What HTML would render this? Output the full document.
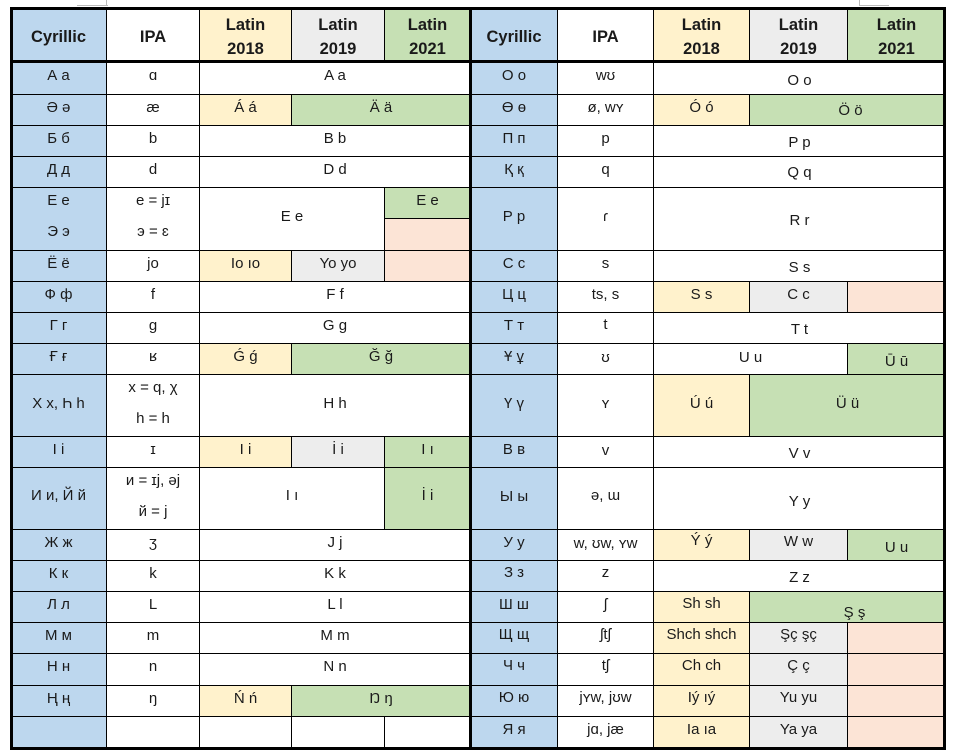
<!DOCTYPE html>
<html><head><meta charset="utf-8">
<style>
html,body{margin:0;padding:0;background:#fff;}
body{width:953px;height:753px;position:relative;overflow:hidden;font-family:"Liberation Sans","DejaVu Sans",sans-serif;}
.c{position:absolute;box-sizing:border-box;border:1px solid #000;display:flex;align-items:center;justify-content:center;font-size:15px;color:#1a1a1a;white-space:nowrap;background:#fff;}
.c span{position:relative;top:-3px;text-align:center;}
.c span.two{line-height:31px;}
.h{font-weight:bold;font-size:16.5px;color:#1a1a1a;}
.h span{top:2px;line-height:24px;}
.bl{background:#bdd7ee;}
.ye{background:#fff2cc;}
.gr{background:#ededed;}
.gn{background:#c6e0b4;}
.pk{background:#fce4d6;}
.k{position:absolute;background:#000;}
.g{position:absolute;background:#bbb;}
</style></head><body>

<!-- artifacts -->
<div class="g" style="left:77px;top:5px;width:31px;height:1px"></div>
<div class="g" style="left:106px;top:0;width:1px;height:6px"></div>
<div class="g" style="left:859px;top:0;width:1px;height:6px"></div>
<div class="g" style="left:859px;top:5px;width:30px;height:1px"></div>

<!-- HEADER LEFT -->
<div class="c h bl" style="left:10px;top:7px;width:97px;height:55px"><span>Cyrillic</span></div>
<div class="c h" style="left:106px;top:7px;width:94px;height:55px"><span>IPA</span></div>
<div class="c h ye" style="left:199px;top:7px;width:93px;height:55px"><span>Latin<br>2018</span></div>
<div class="c h gr" style="left:291px;top:7px;width:94px;height:55px"><span>Latin<br>2019</span></div>
<div class="c h gn" style="left:384px;top:7px;width:87px;height:55px"><span>Latin<br>2021</span></div>
<!-- HEADER RIGHT -->
<div class="c h bl" style="left:470px;top:7px;width:88px;height:55px"><span>Cyrillic</span></div>
<div class="c h" style="left:557px;top:7px;width:97px;height:55px"><span>IPA</span></div>
<div class="c h ye" style="left:653px;top:7px;width:97px;height:55px"><span>Latin<br>2018</span></div>
<div class="c h gr" style="left:749px;top:7px;width:99px;height:55px"><span>Latin<br>2019</span></div>
<div class="c h gn" style="left:847px;top:7px;width:99px;height:55px"><span>Latin<br>2021</span></div>

<!-- LEFT TABLE -->
<!-- А а -->
<div class="c bl" style="left:10px;top:61px;width:97px;height:34px"><span>А а</span></div>
<div class="c" style="left:106px;top:61px;width:94px;height:34px"><span>ɑ</span></div>
<div class="c" style="left:199px;top:61px;width:272px;height:34px"><span>A a</span></div>
<!-- Ә ә -->
<div class="c bl" style="left:10px;top:94px;width:97px;height:32px"><span>Ә ә</span></div>
<div class="c" style="left:106px;top:94px;width:94px;height:32px"><span>æ</span></div>
<div class="c ye" style="left:199px;top:94px;width:93px;height:32px"><span>Á á</span></div>
<div class="c gn" style="left:291px;top:94px;width:180px;height:32px"><span>Ä ä</span></div>
<!-- Б б -->
<div class="c bl" style="left:10px;top:125px;width:97px;height:32px"><span>Б б</span></div>
<div class="c" style="left:106px;top:125px;width:94px;height:32px"><span>b</span></div>
<div class="c" style="left:199px;top:125px;width:272px;height:32px"><span>B b</span></div>
<!-- Д д -->
<div class="c bl" style="left:10px;top:156px;width:97px;height:32px"><span>Д д</span></div>
<div class="c" style="left:106px;top:156px;width:94px;height:32px"><span>d</span></div>
<div class="c" style="left:199px;top:156px;width:272px;height:32px"><span>D d</span></div>
<!-- Е е / Э э -->
<div class="c bl" style="left:10px;top:187px;width:97px;height:64px"><span class="two">Е е<br>Э э</span></div>
<div class="c" style="left:106px;top:187px;width:94px;height:64px"><span class="two">e = jɪ<br>э = ɛ</span></div>
<div class="c" style="left:199px;top:187px;width:186px;height:64px"><span>E e</span></div>
<div class="c gn" style="left:384px;top:187px;width:87px;height:32px"><span>E e</span></div>
<div class="c pk" style="left:384px;top:218px;width:87px;height:33px"><span></span></div>
<!-- Ё ё -->
<div class="c bl" style="left:10px;top:250px;width:97px;height:32px"><span>Ё ё</span></div>
<div class="c" style="left:106px;top:250px;width:94px;height:32px"><span>jo</span></div>
<div class="c ye" style="left:199px;top:250px;width:93px;height:32px"><span>Io ıo</span></div>
<div class="c gr" style="left:291px;top:250px;width:94px;height:32px"><span>Yo yo</span></div>
<div class="c pk" style="left:384px;top:250px;width:87px;height:32px"><span></span></div>
<!-- Ф ф -->
<div class="c bl" style="left:10px;top:281px;width:97px;height:32px"><span>Ф ф</span></div>
<div class="c" style="left:106px;top:281px;width:94px;height:32px"><span>f</span></div>
<div class="c" style="left:199px;top:281px;width:272px;height:32px"><span>F f</span></div>
<!-- Г г -->
<div class="c bl" style="left:10px;top:312px;width:97px;height:32px"><span>Г г</span></div>
<div class="c" style="left:106px;top:312px;width:94px;height:32px"><span>g</span></div>
<div class="c" style="left:199px;top:312px;width:272px;height:32px"><span>G g</span></div>
<!-- Ғ ғ -->
<div class="c bl" style="left:10px;top:343px;width:97px;height:32px"><span>Ғ ғ</span></div>
<div class="c" style="left:106px;top:343px;width:94px;height:32px"><span>ʁ</span></div>
<div class="c ye" style="left:199px;top:343px;width:93px;height:32px"><span>Ǵ ǵ</span></div>
<div class="c gn" style="left:291px;top:343px;width:180px;height:32px"><span>Ğ ğ</span></div>
<!-- Х х, Һ һ -->
<div class="c bl" style="left:10px;top:374px;width:97px;height:63px"><span style="top:-2px">Х х, Һ һ</span></div>
<div class="c" style="left:106px;top:374px;width:94px;height:63px"><span class="two">x = q, χ<br>һ = h</span></div>
<div class="c" style="left:199px;top:374px;width:272px;height:63px"><span style="top:-2px">H h</span></div>
<!-- І і -->
<div class="c bl" style="left:10px;top:436px;width:97px;height:32px"><span>І і</span></div>
<div class="c" style="left:106px;top:436px;width:94px;height:32px"><span>ɪ</span></div>
<div class="c ye" style="left:199px;top:436px;width:93px;height:32px"><span>I i</span></div>
<div class="c gr" style="left:291px;top:436px;width:94px;height:32px"><span>İ i</span></div>
<div class="c gn" style="left:384px;top:436px;width:87px;height:32px"><span>I ı</span></div>
<!-- И и, Й й -->
<div class="c bl" style="left:10px;top:467px;width:97px;height:63px"><span>И и, Й й</span></div>
<div class="c" style="left:106px;top:467px;width:94px;height:63px"><span class="two">и = ɪj, əj<br>й = j</span></div>
<div class="c" style="left:199px;top:467px;width:186px;height:63px"><span>I ı</span></div>
<div class="c gn" style="left:384px;top:467px;width:87px;height:63px"><span>İ i</span></div>
<!-- Ж ж -->
<div class="c bl" style="left:10px;top:529px;width:97px;height:32px"><span>Ж ж</span></div>
<div class="c" style="left:106px;top:529px;width:94px;height:32px"><span>ʒ</span></div>
<div class="c" style="left:199px;top:529px;width:272px;height:32px"><span>J j</span></div>
<!-- К к -->
<div class="c bl" style="left:10px;top:560px;width:97px;height:32px"><span>К к</span></div>
<div class="c" style="left:106px;top:560px;width:94px;height:32px"><span>k</span></div>
<div class="c" style="left:199px;top:560px;width:272px;height:32px"><span>K k</span></div>
<!-- Л л -->
<div class="c bl" style="left:10px;top:591px;width:97px;height:32px"><span>Л л</span></div>
<div class="c" style="left:106px;top:591px;width:94px;height:32px"><span>L</span></div>
<div class="c" style="left:199px;top:591px;width:272px;height:32px"><span>L l</span></div>
<!-- М м -->
<div class="c bl" style="left:10px;top:622px;width:97px;height:32px"><span>М м</span></div>
<div class="c" style="left:106px;top:622px;width:94px;height:32px"><span>m</span></div>
<div class="c" style="left:199px;top:622px;width:272px;height:32px"><span>M m</span></div>
<!-- Н н -->
<div class="c bl" style="left:10px;top:653px;width:97px;height:33px"><span>Н н</span></div>
<div class="c" style="left:106px;top:653px;width:94px;height:33px"><span>n</span></div>
<div class="c" style="left:199px;top:653px;width:272px;height:33px"><span>N n</span></div>
<!-- Ң ң -->
<div class="c bl" style="left:10px;top:685px;width:97px;height:32px"><span>Ң ң</span></div>
<div class="c" style="left:106px;top:685px;width:94px;height:32px"><span>ŋ</span></div>
<div class="c ye" style="left:199px;top:685px;width:93px;height:32px"><span>Ń ń</span></div>
<div class="c gn" style="left:291px;top:685px;width:180px;height:32px"><span>Ŋ ŋ</span></div>
<!-- empty -->
<div class="c bl" style="left:10px;top:716px;width:97px;height:32px"><span></span></div>
<div class="c" style="left:106px;top:716px;width:94px;height:32px"><span></span></div>
<div class="c" style="left:199px;top:716px;width:93px;height:32px"><span></span></div>
<div class="c" style="left:291px;top:716px;width:94px;height:32px"><span></span></div>
<div class="c" style="left:384px;top:716px;width:87px;height:32px"><span></span></div>

<!-- RIGHT TABLE -->
<!-- О о -->
<div class="c bl" style="left:470px;top:61px;width:88px;height:34px"><span>О о</span></div>
<div class="c" style="left:557px;top:61px;width:97px;height:34px"><span>wʊ</span></div>
<div class="c" style="left:653px;top:61px;width:293px;height:34px"><span style="top:2px">O o</span></div>
<!-- Ө ө -->
<div class="c bl" style="left:470px;top:94px;width:88px;height:32px"><span>Ө ө</span></div>
<div class="c" style="left:557px;top:94px;width:97px;height:32px"><span>ø, wʏ</span></div>
<div class="c ye" style="left:653px;top:94px;width:97px;height:32px"><span>Ó ó</span></div>
<div class="c gn" style="left:749px;top:94px;width:197px;height:32px"><span style="top:0px;left:3px">Ö ö</span></div>
<!-- П п -->
<div class="c bl" style="left:470px;top:125px;width:88px;height:32px"><span>П п</span></div>
<div class="c" style="left:557px;top:125px;width:97px;height:32px"><span>p</span></div>
<div class="c" style="left:653px;top:125px;width:293px;height:32px"><span style="top:1px">P p</span></div>
<!-- Қ қ -->
<div class="c bl" style="left:470px;top:156px;width:88px;height:32px"><span>Қ қ</span></div>
<div class="c" style="left:557px;top:156px;width:97px;height:32px"><span>q</span></div>
<div class="c" style="left:653px;top:156px;width:293px;height:32px"><span style="top:0px">Q q</span></div>
<!-- Р р -->
<div class="c bl" style="left:470px;top:187px;width:88px;height:64px"><span>Р р</span></div>
<div class="c" style="left:557px;top:187px;width:97px;height:64px"><span>ɾ</span></div>
<div class="c" style="left:653px;top:187px;width:293px;height:64px"><span style="top:1px">R r</span></div>
<!-- С с -->
<div class="c bl" style="left:470px;top:250px;width:88px;height:32px"><span>С с</span></div>
<div class="c" style="left:557px;top:250px;width:97px;height:32px"><span>s</span></div>
<div class="c" style="left:653px;top:250px;width:293px;height:32px"><span style="top:1px">S s</span></div>
<!-- Ц ц -->
<div class="c bl" style="left:470px;top:281px;width:88px;height:32px"><span>Ц ц</span></div>
<div class="c" style="left:557px;top:281px;width:97px;height:32px"><span>ts, s</span></div>
<div class="c ye" style="left:653px;top:281px;width:97px;height:32px"><span>S s</span></div>
<div class="c gr" style="left:749px;top:281px;width:99px;height:32px"><span>C c</span></div>
<div class="c pk" style="left:847px;top:281px;width:99px;height:32px"><span></span></div>
<!-- Т т -->
<div class="c bl" style="left:470px;top:312px;width:88px;height:32px"><span>Т т</span></div>
<div class="c" style="left:557px;top:312px;width:97px;height:32px"><span style="top:-4px">t</span></div>
<div class="c" style="left:653px;top:312px;width:293px;height:32px"><span style="top:1px">T t</span></div>
<!-- Ұ ұ -->
<div class="c bl" style="left:470px;top:343px;width:88px;height:32px"><span>Ұ ұ</span></div>
<div class="c" style="left:557px;top:343px;width:97px;height:32px"><span style="top:-2px">ʊ</span></div>
<div class="c" style="left:653px;top:343px;width:195px;height:32px"><span style="top:-2px">U u</span></div>
<div class="c gn" style="left:847px;top:343px;width:99px;height:32px"><span style="top:2px">Ū ū</span></div>
<!-- Ү ү -->
<div class="c bl" style="left:470px;top:374px;width:88px;height:63px"><span style="top:-2px">Ү ү</span></div>
<div class="c" style="left:557px;top:374px;width:97px;height:63px"><span style="top:-2px">ʏ</span></div>
<div class="c ye" style="left:653px;top:374px;width:97px;height:63px"><span style="top:-2px">Ú ú</span></div>
<div class="c gn" style="left:749px;top:374px;width:197px;height:63px"><span style="top:-2px">Ü ü</span></div>
<!-- В в -->
<div class="c bl" style="left:470px;top:436px;width:88px;height:32px"><span>В в</span></div>
<div class="c" style="left:557px;top:436px;width:97px;height:32px"><span style="top:-2px">v</span></div>
<div class="c" style="left:653px;top:436px;width:293px;height:32px"><span style="top:1px">V v</span></div>
<!-- Ы ы -->
<div class="c bl" style="left:470px;top:467px;width:88px;height:63px"><span style="top:-2px">Ы ы</span></div>
<div class="c" style="left:557px;top:467px;width:97px;height:63px"><span>ə, ɯ</span></div>
<div class="c" style="left:653px;top:467px;width:293px;height:63px"><span style="top:3px">Y y</span></div>
<!-- У у -->
<div class="c bl" style="left:470px;top:529px;width:88px;height:32px"><span>У у</span></div>
<div class="c" style="left:557px;top:529px;width:97px;height:32px"><span style="top:-2px">w, ʊw, ʏw</span></div>
<div class="c ye" style="left:653px;top:529px;width:97px;height:32px"><span style="top:-5px">Ý ý</span></div>
<div class="c gr" style="left:749px;top:529px;width:99px;height:32px"><span style="top:-4px">W w</span></div>
<div class="c gn" style="left:847px;top:529px;width:99px;height:32px"><span style="top:2px">U u</span></div>
<!-- З з -->
<div class="c bl" style="left:470px;top:560px;width:88px;height:32px"><span style="top:-4px">З з</span></div>
<div class="c" style="left:557px;top:560px;width:97px;height:32px"><span style="top:-4px">z</span></div>
<div class="c" style="left:653px;top:560px;width:293px;height:32px"><span style="top:1px">Z z</span></div>
<!-- Ш ш -->
<div class="c bl" style="left:470px;top:591px;width:88px;height:32px"><span>Ш ш</span></div>
<div class="c" style="left:557px;top:591px;width:97px;height:32px"><span>ʃ</span></div>
<div class="c ye" style="left:653px;top:591px;width:97px;height:32px"><span style="top:-4px">Sh sh</span></div>
<div class="c gn" style="left:749px;top:591px;width:197px;height:32px"><span style="top:5px;left:7px">Ş ş</span></div>
<!-- Щ щ -->
<div class="c bl" style="left:470px;top:622px;width:88px;height:32px"><span style="top:-4px">Щ щ</span></div>
<div class="c" style="left:557px;top:622px;width:97px;height:32px"><span style="top:-4px">ʃtʃ</span></div>
<div class="c ye" style="left:653px;top:622px;width:97px;height:32px"><span style="top:-4px">Shch shch</span></div>
<div class="c gr" style="left:749px;top:622px;width:99px;height:32px"><span style="top:-4px">Şç şç</span></div>
<div class="c pk" style="left:847px;top:622px;width:99px;height:32px"><span></span></div>
<!-- Ч ч -->
<div class="c bl" style="left:470px;top:653px;width:88px;height:33px"><span style="top:-4px">Ч ч</span></div>
<div class="c" style="left:557px;top:653px;width:97px;height:33px"><span style="top:-4px">tʃ</span></div>
<div class="c ye" style="left:653px;top:653px;width:97px;height:33px"><span style="top:-4px">Ch ch</span></div>
<div class="c gr" style="left:749px;top:653px;width:99px;height:33px"><span style="top:-4px">Ç ç</span></div>
<div class="c pk" style="left:847px;top:653px;width:99px;height:33px"><span></span></div>
<!-- Ю ю -->
<div class="c bl" style="left:470px;top:685px;width:88px;height:32px"><span style="top:-4px">Ю ю</span></div>
<div class="c" style="left:557px;top:685px;width:97px;height:32px"><span style="top:-4px">jʏw, jʊw</span></div>
<div class="c ye" style="left:653px;top:685px;width:97px;height:32px"><span style="top:-4px">Iý ıý</span></div>
<div class="c gr" style="left:749px;top:685px;width:99px;height:32px"><span style="top:-4px">Yu yu</span></div>
<div class="c pk" style="left:847px;top:685px;width:99px;height:32px"><span></span></div>
<!-- Я я -->
<div class="c bl" style="left:470px;top:716px;width:88px;height:32px"><span>Я я</span></div>
<div class="c" style="left:557px;top:716px;width:97px;height:32px"><span>jɑ, jæ</span></div>
<div class="c ye" style="left:653px;top:716px;width:97px;height:32px"><span>Ia ıa</span></div>
<div class="c gr" style="left:749px;top:716px;width:99px;height:32px"><span>Ya ya</span></div>
<div class="c pk" style="left:847px;top:716px;width:99px;height:32px"><span></span></div>

<!-- thick borders -->
<div class="k" style="left:10px;top:7px;width:936px;height:3px"></div>
<div class="k" style="left:10px;top:747px;width:936px;height:3px"></div>
<div class="k" style="left:10px;top:7px;width:3px;height:743px"></div>
<div class="k" style="left:943px;top:7px;width:3px;height:743px"></div>
<div class="k" style="left:10px;top:60px;width:936px;height:3px"></div>
<div class="k" style="left:469px;top:7px;width:3px;height:743px"></div>

</body></html>
